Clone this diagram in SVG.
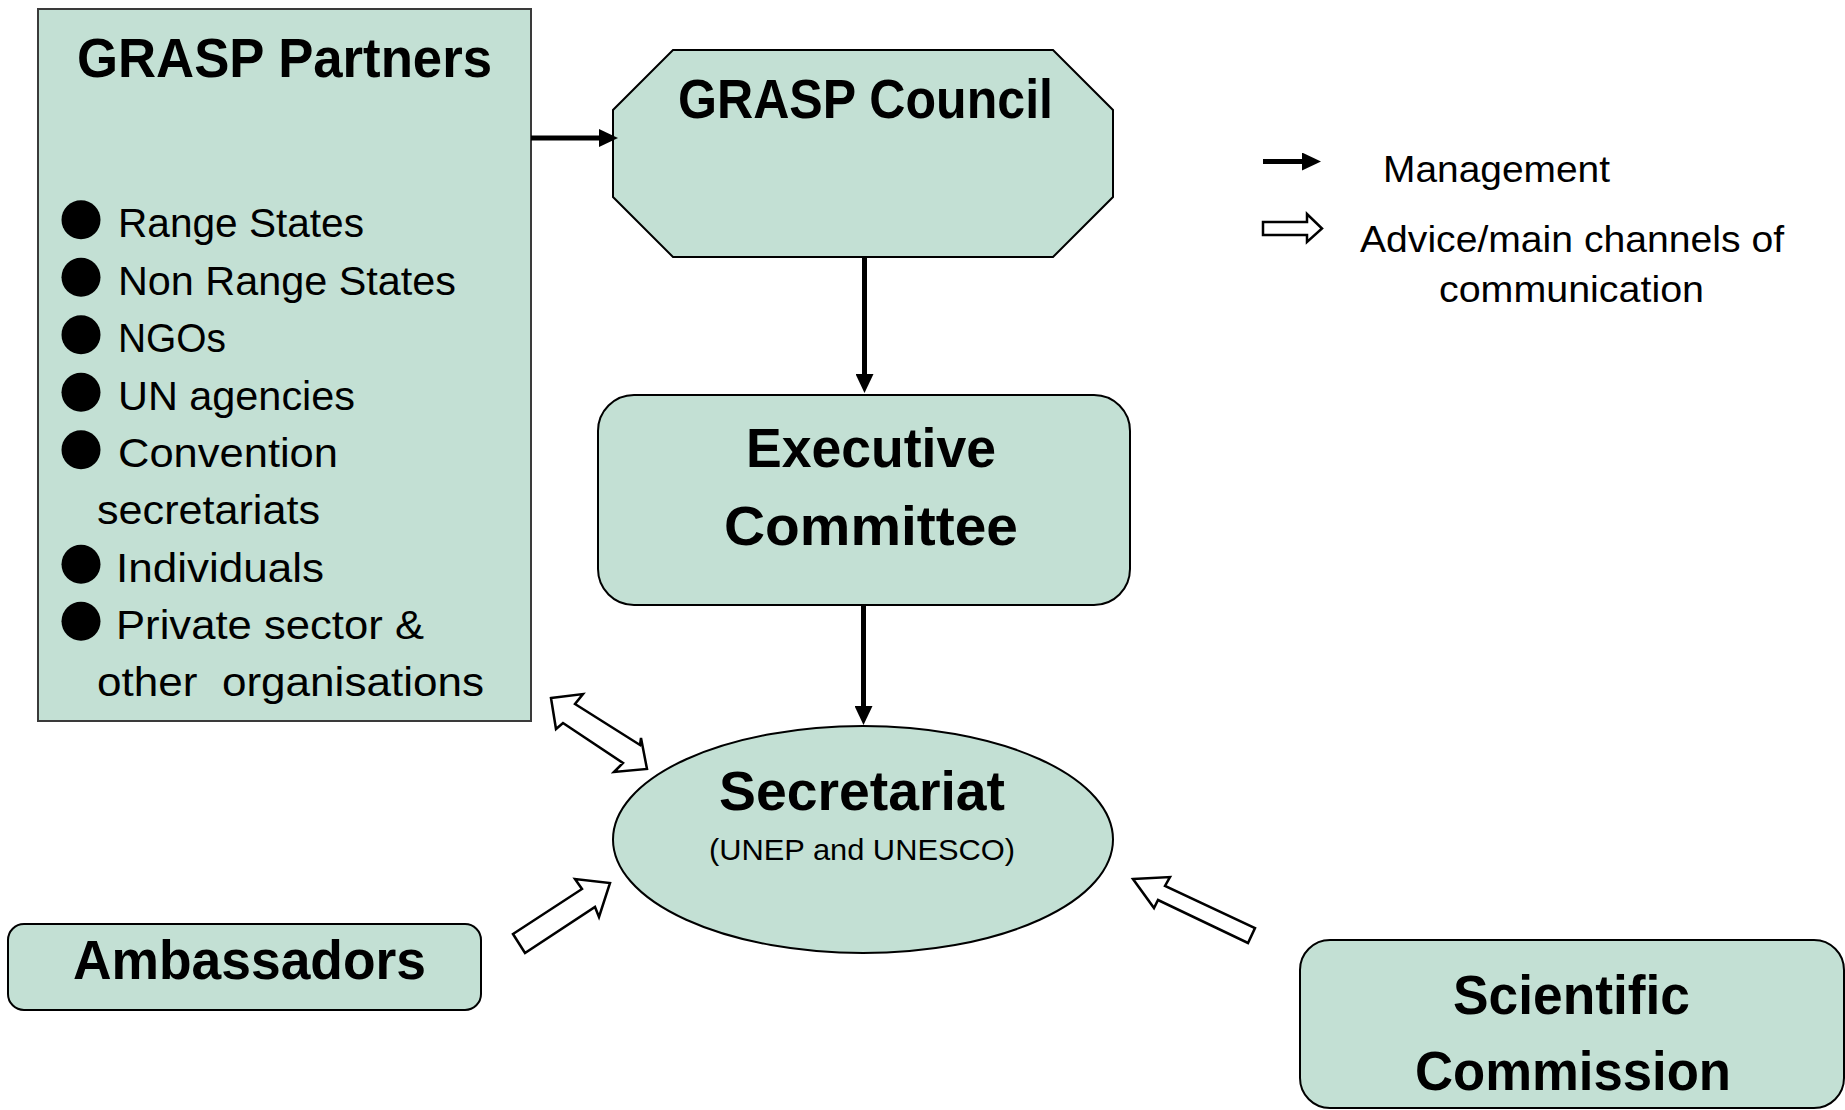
<svg xmlns="http://www.w3.org/2000/svg" width="1845" height="1110" viewBox="0 0 1845 1110">
  <style>
    .box { fill: #c3e0d4; stroke: #000; stroke-width: 2; }
    .boxg { fill: #c3e0d4; stroke: #3a3a3a; stroke-width: 2; }
    .title { font-family: "Liberation Sans", Arial, sans-serif; font-weight: bold; font-size: 56px; fill: #000; }
    .item { font-family: "Liberation Sans", Arial, sans-serif; font-size: 40.5px; fill: #000; }
    .sub { font-family: "Liberation Sans", Arial, sans-serif; font-size: 30px; fill: #000; }
    .legend { font-family: "Liberation Sans", Arial, sans-serif; font-size: 36px; fill: #000; }
    .mgmt { fill: none; stroke: #000; stroke-width: 5; }
    .advice { fill: #fff; stroke: #000; stroke-width: 2.5; stroke-linejoin: miter; }
    .bullet { fill: #000; }
  </style>
  <defs>
    <marker id="head" markerUnits="userSpaceOnUse" viewBox="0 0 19 18" refX="1" refY="9" markerWidth="19" markerHeight="18" orient="auto">
      <path d="M0,0 L19,9 L0,18 Z" fill="#000"/>
    </marker>
  </defs>

  <rect width="1845" height="1110" fill="#fff"/>

  <g id="grasp-partners">
    <rect class="boxg" x="38" y="9" width="493" height="712"/>
    <text class="title" x="77" y="77" textLength="415" lengthAdjust="spacingAndGlyphs">GRASP Partners</text>
    <circle class="bullet" cx="81" cy="219.7" r="19.5"/>
    <text class="item" x="118" y="237" textLength="246" lengthAdjust="spacingAndGlyphs">Range States</text>
    <circle class="bullet" cx="81" cy="277.2" r="19.5"/>
    <text class="item" x="118" y="294.5" textLength="338" lengthAdjust="spacingAndGlyphs">Non Range States</text>
    <circle class="bullet" cx="81" cy="334.7" r="19.5"/>
    <text class="item" x="118" y="352" textLength="108" lengthAdjust="spacingAndGlyphs">NGOs</text>
    <circle class="bullet" cx="81" cy="392.2" r="19.5"/>
    <text class="item" x="118" y="409.5" textLength="237" lengthAdjust="spacingAndGlyphs">UN agencies</text>
    <circle class="bullet" cx="81" cy="449.7" r="19.5"/>
    <text class="item" x="118" y="467" textLength="220" lengthAdjust="spacingAndGlyphs">Convention</text>
    <text class="item" x="97" y="524" textLength="223" lengthAdjust="spacingAndGlyphs">secretariats</text>
    <circle class="bullet" cx="81" cy="564.2" r="19.5"/>
    <text class="item" x="116" y="581.5" textLength="208" lengthAdjust="spacingAndGlyphs">Individuals</text>
    <circle class="bullet" cx="81" cy="621.2" r="19.5"/>
    <text class="item" x="116" y="638.5" textLength="308" lengthAdjust="spacingAndGlyphs">Private sector &amp;</text>
    <text class="item" x="97" y="695.5" textLength="387" lengthAdjust="spacingAndGlyphs" xml:space="preserve">other  organisations</text>
  </g>

  <g id="grasp-council">
    <polygon class="box" points="673,50 1053,50 1113,110 1113,197 1053,257 673,257 613,197 613,110"/>
    <text class="title" x="678" y="118" textLength="375" lengthAdjust="spacingAndGlyphs">GRASP Council</text>
  </g>

  <g id="executive-committee">
    <rect class="box" x="598" y="395" width="532" height="210" rx="36" ry="36"/>
    <text class="title" x="746" y="467" textLength="250" lengthAdjust="spacingAndGlyphs">Executive</text>
    <text class="title" x="724" y="545" textLength="294" lengthAdjust="spacingAndGlyphs">Committee</text>
  </g>

  <g id="secretariat">
    <ellipse class="box" cx="863" cy="839.5" rx="250" ry="113.5"/>
    <text class="title" x="719" y="810" textLength="286" lengthAdjust="spacingAndGlyphs">Secretariat</text>
    <text class="sub" x="709" y="860" textLength="306" lengthAdjust="spacingAndGlyphs">(UNEP and UNESCO)</text>
  </g>

  <g id="ambassadors">
    <rect class="box" x="8" y="924" width="473" height="86" rx="16" ry="16"/>
    <text class="title" x="73" y="979" textLength="353" lengthAdjust="spacingAndGlyphs">Ambassadors</text>
  </g>

  <g id="scientific-commission">
    <rect class="box" x="1300" y="940" width="544" height="168" rx="30" ry="30"/>
    <text class="title" x="1453" y="1014" textLength="237" lengthAdjust="spacingAndGlyphs">Scientific</text>
    <text class="title" x="1415" y="1090" textLength="316" lengthAdjust="spacingAndGlyphs">Commission</text>
  </g>

  <g id="legend">
    <path class="mgmt" d="M1263,161.5 L1303,161.5" marker-end="url(#head)"/>
    <text class="legend" x="1383" y="181.5" textLength="227" lengthAdjust="spacingAndGlyphs">Management</text>
    <polygon class="advice" points="1263,222 1307,222 1307,214 1322,228.5 1307,242 1307,235 1263,235"/>
    <text class="legend" x="1360" y="252" textLength="424" lengthAdjust="spacingAndGlyphs">Advice/main channels of</text>
    <text class="legend" x="1439" y="302" textLength="265" lengthAdjust="spacingAndGlyphs">communication</text>
  </g>

  <g id="connectors">
    <path class="mgmt" d="M531,138 L600,138" marker-end="url(#head)"/>
    <path class="mgmt" d="M864.5,257 L864.5,375" marker-end="url(#head)"/>
    <path class="mgmt" d="M863.5,605 L863.5,707" marker-end="url(#head)"/>
    <polygon class="advice" points="551,698 583,694 575,704 640,745 641,738 647,769 614,772 623,763 563,723 556,729"/>
    <polygon class="advice" points="513,934 582,889 575,879 610,883 599,917 595,907 525,953"/>
    <polygon class="advice" points="1133,879 1170,877 1165,886 1255,928 1248,943 1158,900 1154,908"/>
  </g>
</svg>
